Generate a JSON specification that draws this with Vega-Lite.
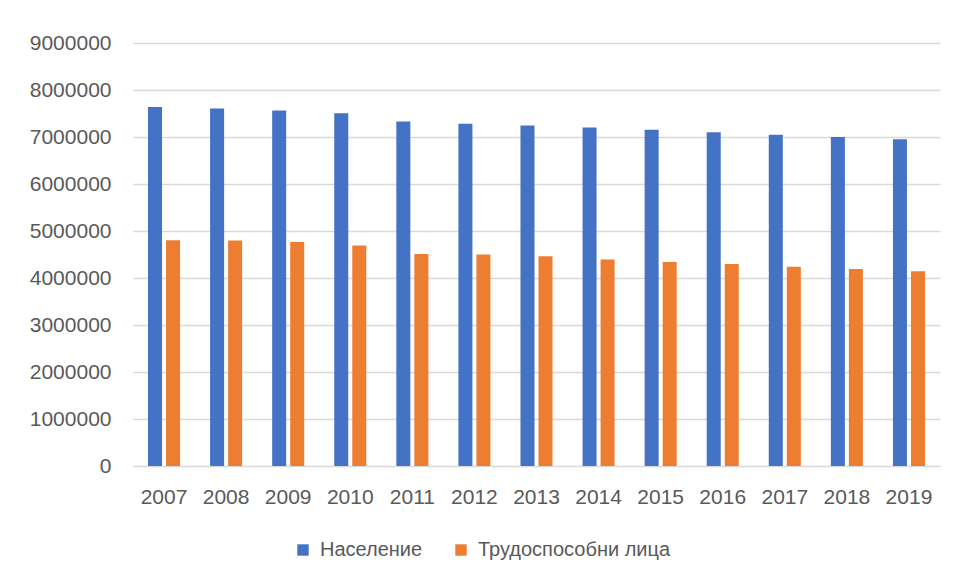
{
  "$schema": "https://vega.github.io/schema/vega-lite/v6.json",
  "autosize": {"type": "none"},
  "width": 807,
  "height": 423,
  "padding": {"left": 133, "top": 43, "right": 15, "bottom": 114},
  "background": "white",
  "data": {
    "values": [
      {"year": "2007", "series": "Население", "value": 7640238},
      {"year": "2008", "series": "Население", "value": 7606551},
      {"year": "2009", "series": "Население", "value": 7563710},
      {"year": "2010", "series": "Население", "value": 7504868},
      {"year": "2011", "series": "Население", "value": 7327224},
      {"year": "2012", "series": "Население", "value": 7284552},
      {"year": "2013", "series": "Население", "value": 7245677},
      {"year": "2014", "series": "Население", "value": 7202198},
      {"year": "2015", "series": "Население", "value": 7153784},
      {"year": "2016", "series": "Население", "value": 7101859},
      {"year": "2017", "series": "Население", "value": 7050034},
      {"year": "2018", "series": "Население", "value": 7000039},
      {"year": "2019", "series": "Население", "value": 6951482},
      {"year": "2007", "series": "Трудоспособни лица", "value": 4802000},
      {"year": "2008", "series": "Трудоспособни лица", "value": 4796000},
      {"year": "2009", "series": "Трудоспособни лица", "value": 4766000},
      {"year": "2010", "series": "Трудоспособни лица", "value": 4689000},
      {"year": "2011", "series": "Трудоспособни лица", "value": 4511000},
      {"year": "2012", "series": "Трудоспособни лица", "value": 4498000},
      {"year": "2013", "series": "Трудоспособни лица", "value": 4462000},
      {"year": "2014", "series": "Трудоспособни лица", "value": 4391000},
      {"year": "2015", "series": "Трудоспособни лица", "value": 4341000},
      {"year": "2016", "series": "Трудоспособни лица", "value": 4298000},
      {"year": "2017", "series": "Трудоспособни лица", "value": 4242000},
      {"year": "2018", "series": "Трудоспособни лица", "value": 4191000},
      {"year": "2019", "series": "Трудоспособни лица", "value": 4143000}
    ]
  },
  "mark": {"type": "bar"},
  "encoding": {
    "x": {
      "field": "year", "type": "nominal",
      "scale": {"paddingInner": 0, "paddingOuter": 0},
      "axis": {"title": null, "labelAngle": 0, "ticks": false, "domain": true, "domainColor": "#D9D9D9", "labelPadding": 20, "grid": false}
    },
    "xOffset": {
      "field": "series",
      "scale": {"paddingInner": 0.222, "paddingOuter": 0.833}
    },
    "y": {
      "field": "value", "type": "quantitative",
      "scale": {"domain": [0, 9000000], "nice": false},
      "axis": {"title": null, "values": [0,1000000,2000000,3000000,4000000,5000000,6000000,7000000,8000000,9000000], "format": "d", "ticks": false, "domain": false, "labelPadding": 22, "gridColor": "#D9D9D9", "gridWidth": 1.3}
    },
    "color": {
      "field": "series", "type": "nominal",
      "scale": {"domain": ["Население", "Трудоспособни лица"], "range": ["#4472C4", "#ED7D31"]},
      "legend": {"title": null, "orient": "none", "legendX": 160, "legendY": 497, "direction": "horizontal", "symbolType": "square", "symbolSize": 130, "symbolStrokeWidth": 0, "columnPadding": 28, "labelOffset": 7, "labelLimit": 400, "labelFontSize": 20}
    }
  },
  "config": {
    "view": {"stroke": null},
    "font": "Liberation Sans",
    "axis": {"labelFont": "Liberation Sans", "labelFontSize": 21, "labelColor": "#595959"},
    "legend": {"labelFont": "Liberation Sans", "labelFontSize": 20, "labelColor": "#595959"}
  }
}
